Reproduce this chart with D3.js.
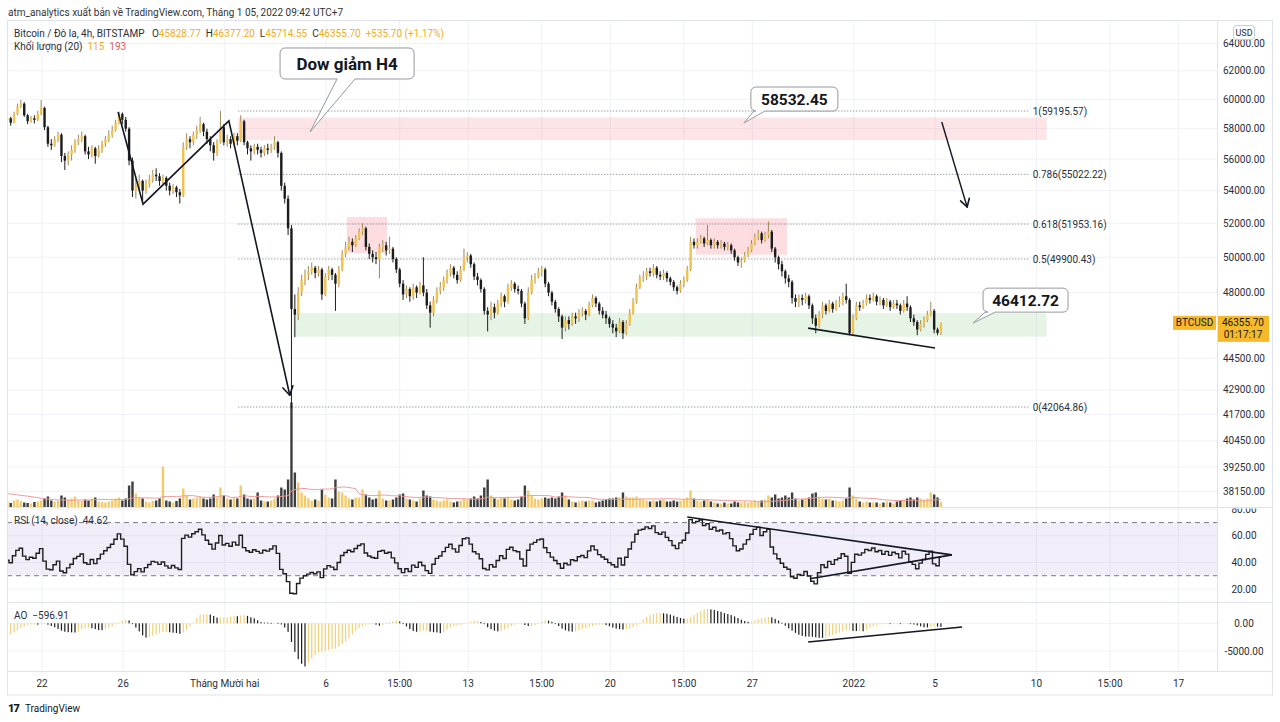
<!DOCTYPE html>
<html><head><meta charset="utf-8">
<script src="https://cdn.jsdelivr.net/npm/d3@7"></script>
<style>
body{margin:0;background:#fff;}
svg{display:block;font-family:Roboto,"Liberation Sans",sans-serif;}
text{white-space:pre;}
</style></head><body>
<svg id="c" width="1280" height="722"></svg>
<script>
// ================= DATA =================
const firstBar = "2021-11-20T07:00:00Z"; // 4h bars, UTC+7 wall clock
const preCloses = [64600,65000,65300,65500,65800,65200,64800,64200,63800,63000,61000,60300,60800,60500,60900,60200,59800,60400,59600,60100,60300,60100,59700,58900,57600,56900,57300,56800,57200,57900,58200,57800,58300,58600];
const preVolumes = [280,320,360,300,260,240,300,280,340,420,380,300,260,280,240,220,260,240,200];
const closes = [
58700,58400,59000,59500,59700,
58900,58500,58700,58600,59000,59400,
58100,57000,56900,57300,57600,56200,
55900,56300,56600,57100,57300,57500,
56500,56300,56700,56200,56600,57000,
57300,57600,57900,58400,59000,58600,
58000,55900,54000,54300,54600,54000,
54400,54700,55000,54900,54600,54800,
54300,54000,54200,53900,53700,56800,
57300,57100,57600,57900,58300,57800,
57300,56900,56400,57100,58100,57100,
57300,57000,57500,57200,58500,57100,
56700,56500,56800,56600,56400,56700,
56600,56800,57100,56400,54300,53500,
51700,47100,46800,48000,48700,49000,
49200,49400,49100,49300,47900,48900,
49300,49000,48500,49300,50200,50600,
50900,50700,51100,51500,51700,50600,
50200,50000,49900,50600,50700,50400,
50500,49900,49300,48500,47900,48200,
47800,48300,48000,48400,48000,47300,
46900,47600,48100,48300,48700,49100,
49400,49000,48700,49300,50000,50100,
49600,48900,48700,48200,47000,46800,
47200,46900,47400,47800,47500,48300,
48500,48200,48100,47400,46600,48000,
48700,48900,49200,49300,48500,48000,
47500,47100,46700,46100,46500,46300,
46700,46600,46900,47000,46800,47300,
47700,47400,47000,46800,46600,46300,
46100,45900,46400,45800,46300,46900,
47500,48300,48800,48900,49200,49100,
49400,49000,48900,49100,48800,48600,
48300,48100,48500,48700,49300,50900,
50700,50900,51100,50800,51000,50700,
50900,50700,50800,50600,50700,50400,
50000,49700,49800,50100,50400,50800,
51200,51400,51000,51300,51500,50500,
50000,49600,49200,48800,48600,47700,
47500,47700,47600,47800,47300,46600,
46200,46800,47300,47000,47400,47100,
47400,47500,47800,47600,45800,46600,
47300,47200,47400,47700,47600,47800,
47500,47600,47300,47500,47200,47400,
47300,47000,47400,47200,46600,46400,
46000,46300,46500,46800,47000,46000,
45820,46355.70];
const highs = [
58950,58800,59150,59700,59950,
59800,59000,58850,58900,59200,59950,
59500,58200,57300,57500,57800,57700,
56400,56500,56900,57300,57600,57800,
57600,56800,56900,56800,56900,57200,
57500,57900,58200,58600,59150,59100,
58800,58100,56100,54800,55000,54700,
54700,55000,55300,55400,55100,55000,
54900,54500,54400,54300,54100,57100,
57700,57500,57800,58200,58800,58400,
58000,57500,57100,57300,59200,58300,
57600,57500,57700,57700,58900,58600,
57200,56900,57000,57000,56800,56900,
57000,57000,57500,57200,56500,54500,
53700,51900,47900,48300,49000,49300,
49500,49700,49500,49500,49400,49100,
49500,49400,49100,49500,50400,50900,
51200,51100,51300,51700,52000,51800,
50800,50400,50300,50800,51000,50900,
51200,50600,50000,49400,48700,48400,
48300,48500,48400,48600,50000,48200,
47500,47800,48300,48600,48900,49300,
49600,49500,49200,49500,50500,50300,
50200,49700,49100,48800,48300,47200,
47500,47400,47600,48000,47900,48500,
48700,48600,48400,48200,47500,48300,
49000,49100,49400,49500,49400,48600,
48100,47600,47200,46800,46700,46700,
46900,46900,47100,47200,47100,47500,
47900,47800,47500,47200,47000,46700,
46500,46300,46600,46500,46500,47100,
47700,48500,49000,49200,49400,49400,
49600,49500,49200,49300,49200,48900,
48700,48400,48700,48900,49500,51200,
51100,51100,51300,51200,51900,51100,
51100,51000,51000,50900,50900,50800,
50500,50100,50000,50300,50600,51000,
51400,51600,51500,51500,52100,51600,
50600,50100,49800,49300,49000,48700,
47900,47900,47900,48000,47900,47400,
46800,47000,47500,47400,47600,47500,
47600,47800,48000,48500,47700,46800,
47500,47500,47600,47900,47900,48000,
47900,47800,47700,47700,47600,47600,
47600,47400,47600,47800,47300,46800,
46500,46500,46700,47000,47500,47100,
46100,46377.20];
const lows = [
58400,58200,58350,58900,59400,
58800,58300,58400,58350,58500,58900,
57900,56800,56600,56800,57100,55800,
55300,55600,55900,56400,56900,57100,
56300,56000,56100,55700,56100,56400,
56800,57100,57400,57800,58300,58300,
57800,55600,53600,53500,54000,53300,
53800,54200,54500,54600,54300,54400,
54000,53700,53800,53600,53200,53600,
56600,56700,56900,57300,57700,57500,
57000,56500,55900,56200,57000,56900,
56800,56700,56900,56900,57100,56900,
56300,55900,56300,56300,56100,56200,
56300,56400,56600,56100,54000,53200,
51300,42000,45600,46500,47800,48400,
48700,49000,48800,48900,47600,47800,
48700,48700,47000,48300,49200,50000,
50400,50300,50600,51000,51300,50400,
49900,49700,49600,48800,50300,50100,
50200,49700,49100,48300,47600,47700,
47500,47600,47700,47900,47800,47100,
46100,46700,47400,47900,48100,48500,
48900,48800,48500,48600,49200,49700,
49400,48700,48400,48000,46800,45900,
46500,46600,46800,47200,47200,47400,
48100,48000,47900,47200,46300,46500,
47900,48500,48800,48900,48300,47800,
47300,46900,46400,45500,45900,46000,
46200,46300,46400,46700,46500,46700,
47200,47200,46800,46600,46300,46100,
45800,45600,45800,45500,45700,46200,
46800,47400,48200,48600,48700,48900,
48900,48800,48700,48700,48600,48400,
48100,47900,48000,48300,48600,49200,
50500,50500,50800,50600,50700,50500,
50500,50500,50500,50400,50400,50200,
49800,49500,49400,49700,50000,50300,
50700,51000,50800,50900,51100,50300,
49700,49300,48900,48500,48300,47400,
47200,47200,47300,47400,47100,46300,
45800,46100,46600,46800,46900,46900,
47000,47200,47300,47400,45700,45700,
46500,47000,47100,47300,47400,47500,
47300,47300,47100,47200,47000,47100,
47100,46800,46900,47000,46400,46200,
45700,45900,46100,46400,46700,45800,
45700,45714.55];
const lastOpen = 45828.77;
const volumes = [
120,90,140,160,130,
100,90,80,110,120,140,
180,220,140,120,130,240,
200,160,180,220,140,130,
160,140,180,200,120,110,
100,120,140,180,200,140,
180,440,520,280,200,180,
120,100,130,140,180,820,
140,120,100,130,180,380,
240,160,180,200,220,180,
160,180,260,200,400,240,
180,160,200,180,440,260,
180,160,180,300,140,120,
120,140,180,240,400,360,
560,2100,700,500,300,240,
180,140,160,140,360,260,
200,180,560,320,300,240,
180,160,200,200,360,260,
200,160,180,340,180,140,
140,160,200,260,280,180,
160,140,120,180,340,240,
220,160,140,120,140,160,
120,100,120,140,180,160,
180,220,180,240,400,560,
240,180,160,200,180,200,
160,140,160,220,440,340,
240,180,160,180,200,180,
200,180,220,300,240,160,
120,100,120,140,120,140,
140,100,120,140,160,180,
180,200,200,300,220,200,
200,220,180,160,140,120,
140,120,140,160,120,120,
140,120,140,160,200,340,
180,140,120,140,160,120,
100,80,80,100,80,80,
120,100,100,120,100,120,
140,120,140,160,240,200,
260,180,200,240,200,300,
180,140,160,180,200,280,
300,200,180,160,180,140,
140,120,140,180,400,240,
180,120,100,120,100,100,
100,80,100,120,100,80,
120,140,160,180,200,160,
200,180,160,180,300,260,
200,115];

const priceTicks = [64000,62000,60000,58000,56000,54000,52000,50000,48000,44500,42900,41700,40450,39250,38150];
const rsiTicks = [80,60,40,20];
const aoTicks = [0,-5000];
const timeTicks = [
 ["2021-11-22T00:00:00Z","22"],["2021-11-26T00:00:00Z","26"],["2021-12-01T00:00:00Z","Tháng Mười hai"],
 ["2021-12-06T00:00:00Z","6"],["2021-12-09T15:00:00Z","15:00"],["2021-12-13T00:00:00Z","13"],
 ["2021-12-16T15:00:00Z","15:00"],["2021-12-20T00:00:00Z","20"],["2021-12-23T15:00:00Z","15:00"],
 ["2021-12-27T00:00:00Z","27"],["2022-01-01T00:00:00Z","2022"],["2022-01-05T00:00:00Z","5"],
 ["2022-01-10T00:00:00Z","10"],["2022-01-13T15:00:00Z","15:00"],["2022-01-17T00:00:00Z","17"]];
const fibLevels = [["1",59195.57],["0.786",55022.22],["0.618",51953.16],["0.5",49900.43],["0",42064.86]];
const fibSpan = ["2021-12-01T16:00:00Z","2022-01-09T16:00:00Z"];
const redZone = ["2021-12-01T16:00:00Z","2022-01-10T12:00:00Z",58750,57250];
const greenZone = ["2021-12-04T09:00:00Z","2022-01-10T12:00:00Z",46880,45620];
const smallZones = [["2021-12-07T00:30:00Z","2021-12-09T00:00:00Z",52380,50240],
                    ["2021-12-24T05:00:00Z","2021-12-28T17:00:00Z",52300,50150]];
const zigzag = [["2021-11-25T18:00:00Z",59130],["2021-11-26T23:30:00Z",53160],["2021-12-01T05:00:00Z",58520],["2021-12-04T05:00:00Z",42640]];
const supportLine = [["2021-12-29T18:00:00Z",46075],["2022-01-05T00:00:00Z",45025]];
const downArrow = [["2022-01-05T08:00:00Z",58450],["2022-01-06T14:00:00Z",52985]];
const rsiUpper = [["2021-12-23T19:00:00Z",74.2],["2022-01-05T20:00:00Z",45.7]];
const rsiLower = [["2021-12-29T20:00:00Z",27.7],["2022-01-05T20:00:00Z",45.7]];
const aoLine = [["2021-12-29T18:00:00Z",-3375],["2022-01-06T08:00:00Z",-668]];
const callouts = [
 {text:"Dow giảm H4", t:"2021-12-05T05:00:00Z", p:57780, bx:-30, by:-84, bw:134, bh:31, b1:27, b2:45, fs:17},
 {text:"58532.45",   t:"2021-12-26T14:00:00Z", p:58380, bx:7,   by:-36, bw:87,  bh:24, b1:10, b2:21, fs:15.5},
 {text:"46412.72",   t:"2022-01-06T21:00:00Z", p:46340, bx:10,  by:-35, bw:85,  bh:24, b1:12, b2:22, fs:15.5}];
const lastPrice = 46355.70, countdown = "01:17:17", volMA = 193;

// ================= SCALES =================
const svg = d3.select("#c");
const L=7, R=1272, AX=1217, T=20, MB=507.5, RB=602.5, AB=671.5, B=694.5;
const UP="#f2c14e", DN="#1c1c1c", GRID="#f0f2f7", TXT="#2a2e39";
const x = d3.scaleUtc().domain([new Date("2021-11-22T00:00:00Z"), new Date("2022-01-05T00:00:00Z")]).range([42,935]);
const y = d3.scaleLog().domain([42064.86,59195.57]).range([407,111]);
const yv = d3.scaleLinear().domain([0,2000]).range([MB,MB-100]);
const yr = d3.scaleLinear().domain([20,80]).range([589,509.3]);
const ya = d3.scaleLinear().domain([-5000,0]).range([651,623.3]);
const t0 = Date.parse(firstBar);
const bars = closes.map((c,i)=>({
  t:new Date(t0+i*4*3600e3),
  o: i===closes.length-1 ? lastOpen : (i===0 ? preCloses[preCloses.length-1] : closes[i-1]),
  h:highs[i], l:lows[i], c:c, v:volumes[i]}));
const T_ = s=>new Date(s);

// indicators from the bar data
const allC = preCloses.concat(closes), np = preCloses.length;
let ag=0, al=0; const rsiAll=[];
for(let k=1;k<=14;k++){const d=allC[k]-allC[k-1]; if(d>0)ag+=d; else al-=d;}
ag/=14; al/=14;
for(let k=15;k<allC.length;k++){const d=allC[k]-allC[k-1]; ag=(ag*13+Math.max(d,0))/14; al=(al*13+Math.max(-d,0))/14; rsiAll[k]=100-100/(1+ag/al);}
const rsi = bars.map((b,i)=>rsiAll[np+i]);
const med = preCloses.concat(bars.map(b=>(b.h+b.l)/2));
const sma=(a,k,n)=>d3.mean(a.slice(k-n+1,k+1));
const ao = bars.map((b,i)=>sma(med,np+i,5)-sma(med,np+i,34));
const allV = preVolumes.concat(volumes);
const vma = bars.map((b,i)=>sma(allV,preVolumes.length+i,20));

// ================= FRAME & GRID =================
const defs = svg.append("defs");
function clip(id,x0,y0,x1,y1){defs.append("clipPath").attr("id",id).append("rect").attr("x",x0).attr("y",y0).attr("width",x1-x0).attr("height",y1-y0);}
clip("cm",L,T,AX,MB); clip("cr",L,MB,AX,RB); clip("ca",L,RB,AX,AB); clip("cax",AX,MB+1,R,AB);

const g = svg.append("g");
g.selectAll(".vg").data(timeTicks).join("line").attr("x1",d=>x(T_(d[0]))).attr("x2",d=>x(T_(d[0])))
 .attr("y1",T).attr("y2",AB).attr("stroke",GRID);
g.selectAll(".hg").data(priceTicks).join("line").attr("x1",L).attr("x2",AX).attr("y1",d=>y(d)).attr("y2",d=>y(d)).attr("stroke",GRID).attr("clip-path","url(#cm)");
g.selectAll(".rg").data(rsiTicks).join("line").attr("x1",L).attr("x2",AX).attr("y1",d=>yr(d)).attr("y2",d=>yr(d)).attr("stroke",GRID).attr("clip-path","url(#cr)");
g.selectAll(".ag").data(aoTicks).join("line").attr("x1",L).attr("x2",AX).attr("y1",d=>ya(d)).attr("y2",d=>ya(d)).attr("stroke",GRID);

// ================= MAIN PANE =================
const m = svg.append("g").attr("clip-path","url(#cm)");
const zr = (s,e,p1,p2,fill)=>m.append("rect").attr("x",x(T_(s))).attr("width",x(T_(e))-x(T_(s)))
  .attr("y",y(p1)).attr("height",y(p2)-y(p1)).attr("fill",fill);
zr(redZone[0],redZone[1],redZone[2],redZone[3],"rgba(242,54,69,0.13)");
zr(greenZone[0],greenZone[1],greenZone[2],greenZone[3],"rgba(76,175,80,0.14)");
smallZones.forEach(z=>zr(z[0],z[1],z[2],z[3],"rgba(242,54,69,0.17)"));

fibLevels.forEach(f=>{
  m.append("line").attr("x1",x(T_(fibSpan[0]))).attr("x2",x(T_(fibSpan[1]))).attr("y1",y(f[1])).attr("y2",y(f[1]))
   .attr("stroke","#8a8d96").attr("stroke-width",1).attr("stroke-dasharray","1.2,1.8");
  m.append("text").attr("x",x(T_(fibSpan[1]))+3).attr("y",y(f[1])).attr("dy","0.35em")
   .attr("font-size",10).attr("fill",TXT).text(`${f[0]}(${f[1].toFixed(2)})`);
});

// volume
m.selectAll(".vol").data(bars).join("rect").attr("x",d=>x(d.t)-1.2).attr("width",2.4)
 .attr("y",d=>yv(d.v)).attr("height",d=>MB-yv(d.v)).attr("fill",d=>d.c>=d.o?UP:DN).attr("opacity",0.85);
m.append("path").datum(bars).attr("fill","none").attr("stroke","#ef9a9a").attr("stroke-width",1)
 .attr("d",d3.line().x(d=>x(d.t)).y((d,i)=>yv(vma[i])));

// candles
const cg = m.append("g");
cg.selectAll(".wk").data(bars).join("line").attr("x1",d=>x(d.t)).attr("x2",d=>x(d.t))
 .attr("y1",d=>y(d.h)).attr("y2",d=>y(d.l)).attr("stroke",d=>d.c>=d.o?"#9a8a5a":DN).attr("stroke-width",1);
cg.selectAll(".bd").data(bars).join("rect").attr("x",d=>x(d.t)-1.2).attr("width",2.4)
 .attr("y",d=>y(Math.max(d.o,d.c))).attr("height",d=>Math.max(1,Math.abs(y(d.o)-y(d.c))))
 .attr("fill",d=>d.c>=d.o?UP:DN);

// drawings
const pl = d3.line().x(d=>x(T_(d[0]))).y(d=>y(d[1]));
function arrowHead(gp,x1,y1,x2,y2,len){const a=Math.atan2(y2-y1,x2-x1);
  [a+Math.PI*0.83,a-Math.PI*0.83].forEach(b=>gp.append("line").attr("x1",x2).attr("y1",y2)
   .attr("x2",x2+len*Math.cos(b)).attr("y2",y2+len*Math.sin(b)).attr("stroke","#131722").attr("stroke-width",1.6).attr("stroke-linecap","round"));}
m.append("path").attr("d",pl(zigzag)).attr("fill","none").attr("stroke","#131722").attr("stroke-width",1.6);
{const n=zigzag.length; arrowHead(m,x(T_(zigzag[n-2][0])),y(zigzag[n-2][1]),x(T_(zigzag[n-1][0])),y(zigzag[n-1][1]),10);}
m.append("path").attr("d",pl(supportLine)).attr("stroke","#131722").attr("stroke-width",1.6);
m.append("path").attr("d",pl(downArrow)).attr("stroke","#131722").attr("stroke-width",1.4);
arrowHead(m,x(T_(downArrow[0][0])),y(downArrow[0][1]),x(T_(downArrow[1][0])),y(downArrow[1][1]),9);

callouts.forEach(c=>{
  const tx=x(T_(c.t)), ty=y(c.p), X=tx+c.bx, Y=ty+c.by, w=c.bw, h=c.bh, r=5;
  const p=`M${X+r},${Y}H${X+w-r}A${r},${r} 0 0 1 ${X+w},${Y+r}V${Y+h-r}A${r},${r} 0 0 1 ${X+w-r},${Y+h}`+
          `H${tx+c.b2}L${tx},${ty}L${tx+c.b1},${Y+h}H${X+r}A${r},${r} 0 0 1 ${X},${Y+h-r}V${Y+r}A${r},${r} 0 0 1 ${X+r},${Y}Z`;
  m.append("path").attr("d",p).attr("fill","#fff").attr("stroke","#9598a1").attr("stroke-width",1);
  m.append("text").attr("x",X+w/2).attr("y",Y+h/2).attr("dy","0.36em").attr("text-anchor","middle")
   .attr("font-size",c.fs).attr("font-weight","bold").attr("fill","#131722").text(c.text);
});

// ================= RSI PANE =================
const rg = svg.append("g").attr("clip-path","url(#cr)");
rg.append("rect").attr("x",L).attr("width",AX-L).attr("y",yr(70)).attr("height",yr(30)-yr(70)).attr("fill","rgba(126,87,194,0.1)");
[70,30].forEach(v=>rg.append("line").attr("x1",L).attr("x2",AX).attr("y1",yr(v)).attr("y2",yr(v))
  .attr("stroke","#787b86").attr("stroke-dasharray","5,4"));
rg.append("path").datum(bars).attr("fill","none").attr("stroke","#1e1e1e").attr("stroke-width",1.4)
  .attr("d",d3.line().curve(d3.curveStep).x(d=>x(d.t)).y((d,i)=>yr(rsi[i])));
const rl = d3.line().x(d=>x(T_(d[0]))).y(d=>yr(d[1]));
rg.append("path").attr("d",rl(rsiUpper)).attr("stroke","#131722").attr("stroke-width",1.6);
rg.append("path").attr("d",rl(rsiLower)).attr("stroke","#131722").attr("stroke-width",1.6);

// ================= AO PANE =================
const ag_ = svg.append("g").attr("clip-path","url(#ca)");
ag_.selectAll(".ao").data(bars).join("rect").attr("x",d=>x(d.t)-0.6).attr("width",1.2)
 .attr("y",(d,i)=>Math.min(ya(0),ya(ao[i]))).attr("height",(d,i)=>Math.max(0.8,Math.abs(ya(ao[i])-ya(0))))
 .attr("fill",(d,i)=>i>0&&ao[i]<ao[i-1]?DN:"#f1d176");
const al_ = d3.line().x(d=>x(T_(d[0]))).y(d=>ya(d[1]));
ag_.append("path").attr("d",al_(aoLine)).attr("stroke","#131722").attr("stroke-width",1.6);

// ================= SEPARATORS / AXES =================
const fr = svg.append("g").attr("stroke","#e0e3eb").attr("fill","none");
fr.append("rect").attr("x",L+0.5).attr("y",T+0.5).attr("width",R-L).attr("height",B-T);
[MB,RB,AB].forEach(v=>fr.append("line").attr("x1",L).attr("x2",R).attr("y1",v).attr("y2",v));
fr.append("line").attr("x1",AX+0.5).attr("x2",AX+0.5).attr("y1",T).attr("y2",AB);

const tx = svg.append("g").attr("font-size",10).attr("fill",TXT);
tx.selectAll(".pt").data(priceTicks).join("text").attr("x",1244).attr("y",d=>y(d)).attr("dy","0.35em").attr("text-anchor","middle").text(d=>d.toFixed(2));
const rax = svg.append("g").attr("clip-path","url(#cax)").attr("font-size",10).attr("fill",TXT);
rax.selectAll(".rt").data(rsiTicks).join("text").attr("x",1244).attr("y",d=>yr(d)).attr("dy","0.35em").attr("text-anchor","middle").text(d=>d.toFixed(2));
rax.selectAll(".at").data(aoTicks).join("text").attr("x",1244).attr("y",d=>ya(d)).attr("dy","0.35em").attr("text-anchor","middle").text(d=>d.toFixed(2));
tx.selectAll(".tt").data(timeTicks).join("text").attr("x",d=>x(T_(d[0]))).attr("y",683).attr("dy","0.35em").attr("text-anchor","middle").text(d=>d[1]);

svg.append("rect").attr("x",1233.5).attr("y",25.5).attr("width",21).attr("height",14).attr("rx",3).attr("fill","#fff").attr("stroke","#c9ccd4");
svg.append("text").attr("x",1244).attr("y",33).attr("dy","0.35em").attr("text-anchor","middle").attr("font-size",9).attr("fill",TXT).text("USD");

const TAG="#f6b92b", ly=y(lastPrice);
svg.append("rect").attr("x",AX+1).attr("y",ly-7).attr("width",51).attr("height",26).attr("fill",TAG);
svg.append("text").attr("x",1243).attr("y",ly).attr("dy","0.35em").attr("text-anchor","middle").attr("font-size",10).attr("fill","#131722").text(lastPrice.toFixed(2));
svg.append("text").attr("x",1243).attr("y",ly+12).attr("dy","0.35em").attr("text-anchor","middle").attr("font-size",10).attr("fill","#131722").text(countdown);
svg.append("rect").attr("x",1173).attr("y",ly-7).attr("width",43).attr("height",14).attr("fill",TAG);
svg.append("text").attr("x",1194.5).attr("y",ly).attr("dy","0.35em").attr("text-anchor","middle").attr("font-size",10).attr("fill","#131722").text("BTCUSD");

// ================= LEGENDS / TEXT =================
svg.append("text").attr("x",8).attr("y",12).attr("dy","0.35em").attr("font-size",10).attr("fill","#333").text("atm_analytics xuất bản về TradingView.com, Tháng 1 05, 2022 09:42 UTC+7");
const VAL="#f0ad1e";
const lg = svg.append("text").attr("x",14).attr("y",33).attr("dy","0.35em").attr("font-size",10).attr("fill",TXT);
lg.append("tspan").text("Bitcoin / Đô la, 4h, BITSTAMP ");
[["O",lastOpen],["H",highs[highs.length-1]],["L",lows[lows.length-1]],["C",lastPrice]].forEach(p=>{
  lg.append("tspan").text("  "+p[0]); lg.append("tspan").attr("fill",VAL).text(p[1].toFixed(2));});
const chg = lastPrice-closes[closes.length-2];
lg.append("tspan").attr("fill",VAL).text(`  +${chg.toFixed(2)} (+${(chg/closes[closes.length-2]*100).toFixed(2)}%)`);
const lv = svg.append("text").attr("x",14).attr("y",46).attr("dy","0.35em").attr("font-size",10).attr("fill",TXT);
lv.append("tspan").text("Khối lượng (20)  ");
lv.append("tspan").attr("fill",VAL).text(volumes[volumes.length-1]);
lv.append("tspan").attr("fill","#e05a5a").text("  "+volMA);
svg.append("text").attr("x",14).attr("y",520).attr("dy","0.35em").attr("font-size",10).attr("fill",TXT).text("RSI (14, close)  44.62");
svg.append("text").attr("x",14).attr("y",615).attr("dy","0.35em").attr("font-size",10).attr("fill",TXT).text("AO  −596.91");

svg.append("text").attr("x",8).attr("y",708).attr("dy","0.35em").attr("font-size",11).attr("font-weight","900").attr("fill","#131722").attr("letter-spacing",-1).text("17");
svg.append("text").attr("x",25).attr("y",708).attr("dy","0.35em").attr("font-size",10).attr("fill","#131722").text("TradingView");
</script></body></html>
